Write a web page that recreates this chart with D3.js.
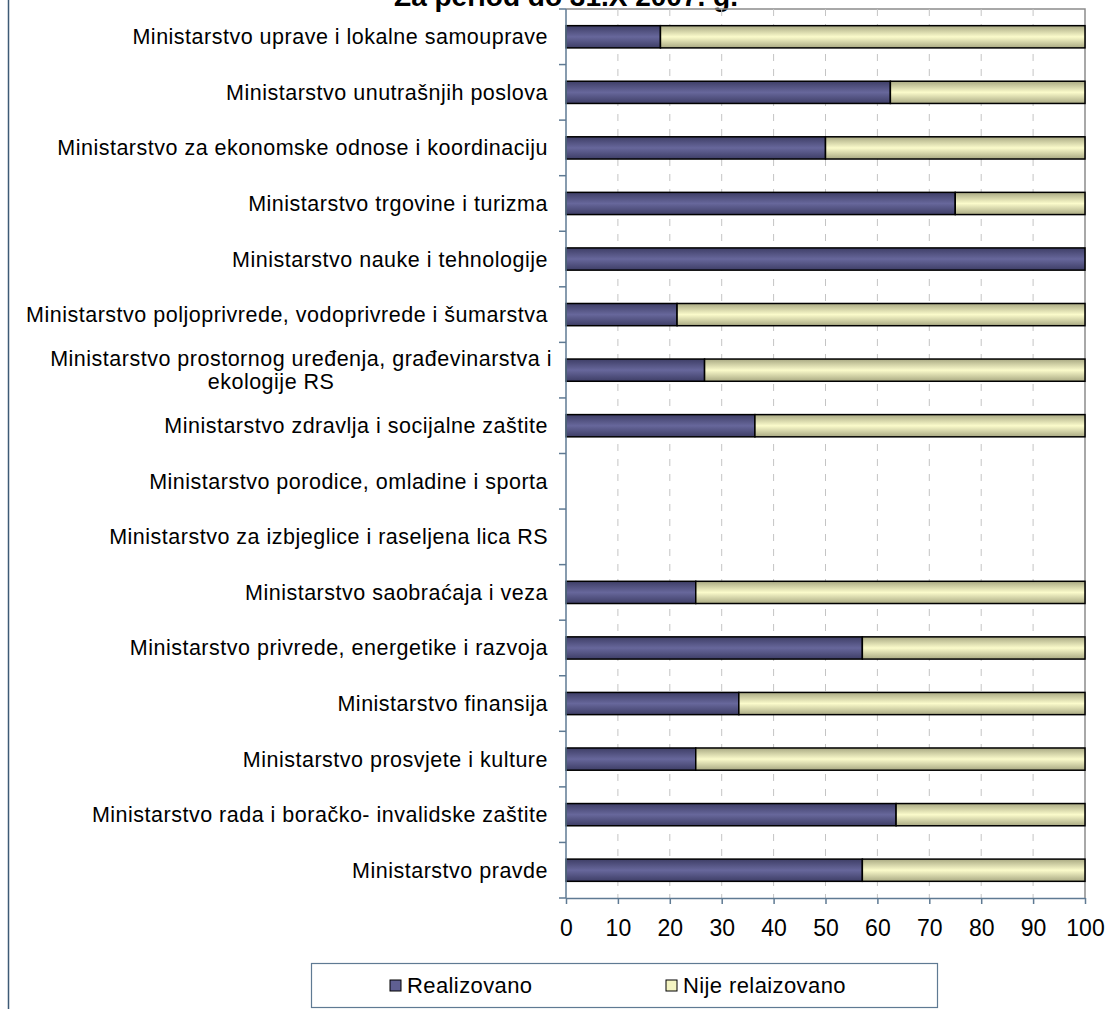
<!DOCTYPE html>
<html lang="sr">
<head>
<meta charset="UTF-8">
<title>Realizacija po ministarstvima</title>
<script src="https://d3js.org/d3.v7.min.js"></script>
<style>
  body { margin: 0; background: #fff; }
  svg { display: block; font-family: "Liberation Sans", Arial, sans-serif; }
</style>
</head>
<body>
<div id="chart"></div>
<script>
// data
const categories = [
  "Ministarstvo uprave i lokalne samouprave",
  "Ministarstvo unutrašnjih poslova",
  "Ministarstvo za ekonomske odnose i koordinaciju",
  "Ministarstvo trgovine i turizma",
  "Ministarstvo nauke i tehnologije",
  "Ministarstvo poljoprivrede, vodoprivrede i šumarstva",
  "Ministarstvo prostornog uređenja, građevinarstva i\nekologije RS",
  "Ministarstvo zdravlja i socijalne zaštite",
  "Ministarstvo porodice, omladine i sporta",
  "Ministarstvo za izbjeglice i raseljena lica RS",
  "Ministarstvo saobraćaja i veza",
  "Ministarstvo privrede, energetike i razvoja",
  "Ministarstvo finansija",
  "Ministarstvo prosvjete i kulture",
  "Ministarstvo rada i boračko- invalidske zaštite",
  "Ministarstvo pravde"
];
const realizovano =     [18.2, 62.5, 50, 75, 100, 21.4, 26.7, 36.4, 0, 0, 25, 57.1, 33.3, 25, 63.6, 57.1];
const nijeRealizovano = [81.8, 37.5, 50, 25, 0, 78.6, 73.3, 63.6, 0, 0, 75, 42.9, 66.7, 75, 36.4, 42.9];
const seriesNames = ["Realizovano", "Nije relaizovano"];
const xTicks = [0, 10, 20, 30, 40, 50, 60, 70, 80, 90, 100];
const title = "Za period do 31.X 2007. g.";

const width = 1112, height = 1009;
const plot = { left: 566, right: 1085, top: 9, bottom: 898 };

const svg = d3.select("#chart").append("svg")
  .attr("width", width).attr("height", height);

// gradients like the old office bars
const defs = svg.append("defs");
function grad(id, edge, mid) {
  const g = defs.append("linearGradient").attr("id", id)
    .attr("x1", 0).attr("y1", 0).attr("x2", 0).attr("y2", 1);
  g.append("stop").attr("offset", "0%").attr("stop-color", edge);
  g.append("stop").attr("offset", "50%").attr("stop-color", mid);
  g.append("stop").attr("offset", "100%").attr("stop-color", edge);
}
grad("gNavy", "#3e3e66", "#67679b");
grad("gYellow", "#a9a983", "#fbfbcb");
const fills = ["url(#gNavy)", "url(#gYellow)"];
const swatch = ["#5f5f92", "#f4f4c2"];

// outer chart frame (left edge visible)
svg.append("line").attr("x1", 8.5).attr("x2", 8.5).attr("y1", 0).attr("y2", height)
  .attr("stroke", "#3d5a76").attr("stroke-width", 1.5);

// title, cut off at top like in the original
svg.append("text").attr("x", 566).attr("y", 6)
  .attr("text-anchor", "middle").attr("font-weight", "bold").attr("font-size", 28)
  .text(title);

const x = d3.scaleLinear().domain([0, 100]).range([plot.left, plot.right]);
const y = d3.scaleBand().domain(categories).range([plot.top, plot.bottom])
  .paddingInner(0.6).paddingOuter(0.3);

// plot border (top/right)
svg.append("path")
  .attr("d", `M${plot.left},${plot.top}H${plot.right}V${plot.bottom}`)
  .attr("fill", "none").attr("stroke", "#8c8c8c").attr("stroke-width", 1.5);

// dashed vertical grid
svg.append("g").selectAll("line").data(xTicks.slice(1, -1)).join("line")
  .attr("x1", d => x(d)).attr("x2", d => x(d))
  .attr("y1", plot.top).attr("y2", plot.bottom)
  .attr("stroke", "#c4c4c4").attr("stroke-dasharray", "7,8");

// stacked bars
const stack = d3.stack().keys([0, 1]).value((d, k) => d[k]);
const rows = categories.map((c, i) => ({ 0: realizovano[i], 1: nijeRealizovano[i], cat: c }));
const layers = stack(rows);
svg.append("g").selectAll("g").data(layers).join("g")
  .attr("fill", (d, i) => fills[i])
  .selectAll("rect").data(d => d.filter(p => p[1] - p[0] > 0)).join("rect")
  .attr("x", d => x(d[0]))
  .attr("y", d => y(d.data.cat))
  .attr("width", d => x(d[1]) - x(d[0]))
  .attr("height", y.bandwidth())
  .attr("stroke", "#000").attr("stroke-width", 1.5);

// category axis
const axisColor = "#5f7a93";
const step = y.step();
const gy = svg.append("g");
gy.append("line").attr("x1", plot.left).attr("x2", plot.left)
  .attr("y1", plot.top).attr("y2", plot.bottom).attr("stroke", axisColor).attr("stroke-width", 1.5);
gy.selectAll("line.tk").data(d3.range(categories.length + 1)).join("line").attr("class", "tk")
  .attr("x1", plot.left - 7).attr("x2", plot.left)
  .attr("y1", i => plot.top + i * step).attr("y2", i => plot.top + i * step)
  .attr("stroke", axisColor).attr("stroke-width", 1.5);

const labels = gy.selectAll("text").data(categories).join("text")
  .attr("font-size", 21.5).attr("letter-spacing", 0.5).attr("fill", "#000")
  .attr("text-anchor", "end");
labels.each(function (d) {
  const lines = d.split("\n");
  const t = d3.select(this);
  const cy = y(d) + y.bandwidth() / 2;
  if (lines.length === 1) {
    t.attr("x", plot.left - 18).attr("y", cy).attr("dy", "0.35em").text(d);
  } else {
    t.attr("text-anchor", "middle");
    const first = t.append("tspan").attr("y", cy - 11.5).attr("dy", "0.35em").text(lines[0]);
    const w = first.node().getComputedTextLength();
    const cx = plot.left - 14 - w / 2;
    first.attr("x", cx);
    t.append("tspan").attr("x", cx - 30).attr("y", cy + 11.5).attr("dy", "0.35em").text(lines[1]);
  }
});

// value axis
const gx = svg.append("g").attr("transform", `translate(0,${plot.bottom})`)
  .call(d3.axisBottom(x).tickValues(xTicks).tickSize(6).tickPadding(16).tickSizeOuter(0));
gx.select(".domain").attr("stroke", axisColor).attr("stroke-width", 1.5);
gx.selectAll(".tick line").attr("stroke", axisColor).attr("stroke-width", 1.5);
gx.selectAll(".tick text").attr("font-size", 23).attr("font-family", "Liberation Sans, Arial, sans-serif")
  .attr("fill", "#000");

// legend
const lg = svg.append("g");
lg.append("rect").attr("x", 311.5).attr("y", 963.5).attr("width", 626).attr("height", 44)
  .attr("fill", "#fff").attr("stroke", "#5f7a93").attr("stroke-width", 1.2);
const legendX = [390, 666];
seriesNames.forEach((n, i) => {
  lg.append("rect").attr("x", legendX[i]).attr("y", 980).attr("width", 11).attr("height", 11)
    .attr("fill", swatch[i]).attr("stroke", "#000").attr("stroke-width", 1);
  lg.append("text").attr("x", legendX[i] + 17).attr("y", 985.5).attr("dy", "0.35em")
    .attr("font-size", 22).attr("letter-spacing", 0.4).text(n);
});
</script>
</body>
</html>
